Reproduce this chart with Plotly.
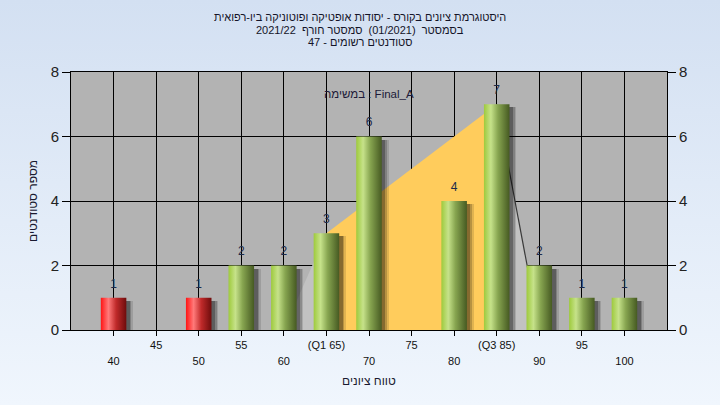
import base64
import plotly.graph_objects as go

# ---------------- data ----------------
bins = [40, 45, 50, 55, 60, 65, 70, 75, 80, 85, 90, 95, 100]
counts = [1, 0, 1, 2, 2, 3, 6, 0, 4, 7, 2, 1, 1]
tick_text = ["40", "45", "50", "55", "60", "(Q1 65)", "70", "75", "80", "(Q3 85)", "90", "95", "100"]
pass_grade = 55
q1, q3 = 65, 85
low_edge, high_edge = 60, 90
y_ticks = [0, 2, 4, 6, 8]

title_lines = [
    "היסטוגרמת ציונים בקורס - יסודות אופטיקה ופוטוניקה ביו-רפואית",
    "בסמסטר  (01/2021)  סמסטר חורף  2021/22",
    "סטודנטים רשומים - 47",
]
task_label = "במשימה : Final_A"
x_title = "טווח ציונים"
y_title = "מספר סטודנטים"

# ---------------- styles ----------------
FONT = "Liberation Sans, Arial, sans-serif"
W, H = 720, 405
ML, MR, MT, MB = 71, 53, 72, 75
PW, PH = W - ML - MR, H - MT - MB
BAR_W = 3.0
green_scale = [[0, "rgb(158,202,60)"], [0.27, "rgb(198,226,138)"], [0.55, "rgb(135,165,80)"], [1, "rgb(70,90,34)"]]
red_scale = [[0, "rgb(255,20,20)"], [0.3, "rgb(255,122,122)"], [0.6, "rgb(192,42,42)"], [1, "rgb(110,12,12)"]]

bg_svg = ("<svg xmlns='http://www.w3.org/2000/svg' width='%d' height='%d'>"
          "<defs><linearGradient id='g' x1='0' y1='0' x2='0' y2='1'>"
          "<stop offset='0' stop-color='#d3e0f2'/><stop offset='1' stop-color='#f0f6fd'/>"
          "</linearGradient></defs><rect width='%d' height='%d' fill='url(#g)'/></svg>") % (W, H, W, H)
bg_src = "data:image/svg+xml;base64," + base64.b64encode(bg_svg.encode()).decode()


def path(xs, ys):
    return "M " + " L ".join("%s,%s" % (a, b) for a, b in zip(xs, ys)) + " Z"


val = dict(zip(bins, counts))
fig = go.Figure()

shapes = [
    dict(type="rect", xref="paper", yref="paper", x0=0, x1=1, y0=0, y1=1, layer="below",
         fillcolor="#b3b3b3", line=dict(width=0)),
    dict(type="path", xref="x", yref="y", layer="between",
         path=path([low_edge, q1, q1], [0, val[q1], 0]),
         fillcolor="#c2c2c2", line=dict(width=0)),
    dict(type="path", xref="x", yref="y", layer="between",
         path=path([q3, q3, high_edge], [0, val[q3], 0]),
         fillcolor="#c2c2c2", line=dict(width=0)),
    dict(type="line", xref="x", yref="y", layer="between",
         x0=q3, y0=val[q3], x1=high_edge, y1=0,
         line=dict(width=1.2, color="#3a3a3a")),
    dict(type="path", xref="x", yref="y", layer="between",
         path=path([q1, q1, q3, q3], [0, val[q1], val[q3], 0]),
         fillcolor="#ffcc5c", line=dict(width=0)),
]

# shadows (bars, drawn beneath the gradient columns)
for dx, alpha in [(0.8, 0.12), (0.6, 0.18), (0.42, 0.27)]:
    fig.add_trace(go.Bar(
        x=bins, y=[max(c - 0.1, 0) for c in counts], width=BAR_W, offset=-BAR_W / 2 + dx,
        marker=dict(color="rgba(0,0,0,%s)" % alpha, line=dict(width=0)),
        hoverinfo="skip", showlegend=False))

# gradient columns
for b, c in zip(bins, counts):
    if c <= 0:
        continue
    x0, x1 = b - BAR_W / 2, b + BAR_W / 2
    fig.add_trace(go.Scatter(
        x=[x0, x0, x1, x1, x0], y=[0, c, c, 0, 0], mode="lines", fill="toself",
        line=dict(width=0), fillgradient=dict(type="horizontal",
                                              colorscale=red_scale if b < pass_grade else green_scale),
        hoverinfo="skip", showlegend=False))

# value labels
nz = [(b, c) for b, c in zip(bins, counts) if c > 0]
fig.add_trace(go.Scatter(
    x=[b for b, _ in nz], y=[c for _, c in nz], text=[str(c) for _, c in nz],
    mode="markers+text", textposition="top center",
    marker=dict(size=10, opacity=0),
    textfont=dict(family=FONT, size=12, color="#1c2a4a"),
    hoverinfo="skip", showlegend=False))

row1 = [t if i % 2 == 1 else "" for i, t in enumerate(tick_text)]
row2_vals = [b for i, b in enumerate(bins) if i % 2 == 0]
row2_text = [t for i, t in enumerate(tick_text) if i % 2 == 0]

axis_font = dict(family=FONT, size=11, color="#111111")
fig.update_layout(
    width=W, height=H,
    margin=dict(l=ML, r=MR, t=MT, b=MB),
    paper_bgcolor="#e1ebf7",
    plot_bgcolor="rgba(0,0,0,0)",
    barmode="overlay",
    bargap=0,
    shapes=shapes,
    images=[dict(source=bg_src, xref="paper", yref="paper", x=-ML / PW, y=1 + MT / PH,
                 sizex=W / PW, sizey=H / PH, sizing="stretch", xanchor="left",
                 yanchor="top", layer="below")],
    xaxis=dict(range=[35, 105], tickvals=bins, ticktext=row1, showgrid=True,
               gridcolor="black", gridwidth=1, ticks="outside", ticklen=5,
               tickcolor="black", showline=True, mirror=True, linecolor="black",
               zeroline=False, tickfont=axis_font, fixedrange=True),
    xaxis3=dict(overlaying="x", anchor="y", side="bottom", range=[35, 105],
                tickvals=row2_vals, ticktext=row2_text, showgrid=False, ticks="",
                showline=False, zeroline=False, tickfont=axis_font,
                ticklabelstandoff=23),
    yaxis=dict(range=[0, 8], tickvals=y_ticks, showgrid=True, gridcolor="black",
               gridwidth=1, ticks="outside", ticklen=8, tickcolor="black",
               showline=True, mirror=True, linecolor="black", zeroline=False,
               tickfont=dict(family=FONT, size=15, color="#222222")),
    yaxis2=dict(overlaying="y", side="right", range=[0, 8], tickvals=y_ticks,
                showgrid=False, ticks="outside", ticklen=8, tickcolor="black",
                showline=False, zeroline=False,
                tickfont=dict(family=FONT, size=15, color="#222222")),
)

# invisible traces to anchor the secondary axes
fig.add_trace(go.Scatter(x=[35], y=[0], xaxis="x3", yaxis="y", mode="markers",
                         marker=dict(opacity=0), hoverinfo="skip", showlegend=False))
fig.add_trace(go.Scatter(x=[35], y=[0], xaxis="x", yaxis="y2", mode="markers",
                         marker=dict(opacity=0), hoverinfo="skip", showlegend=False))

cx = (360 - ML) / PW
ann = []
for line, py in zip(title_lines, [17, 30, 42]):
    ann.append(dict(text=line, x=cx, xref="paper", y=(H - MB - py) / PH, yref="paper",
                    showarrow=False, xanchor="center", yanchor="middle",
                    font=dict(family=FONT, size=11, color="#141428")))
ann.append(dict(text=task_label, x=0.5, xref="paper", y=(H - MB - 86) / PH, yref="paper",
                showarrow=False, font=dict(family=FONT, size=11.5, color="#201a38")))
ann.append(dict(text=x_title, x=0.5, xref="paper", y=(H - MB - 381) / PH, yref="paper",
                showarrow=False, yanchor="middle", font=dict(family=FONT, size=12, color="#1a1a30")))
ann.append(dict(text=y_title, x=(33 - ML) / PW, xref="paper", y=0.5, yref="paper",
                textangle=-90, showarrow=False, xanchor="center", yanchor="middle",
                font=dict(family=FONT, size=12, color="#1a1a30")))
fig.update_layout(annotations=ann)

fig.write_html("out.html", config={"displayModeBar": False},
               post_script="document.body.style.margin='0';document.body.style.background='#e1ebf7';")
